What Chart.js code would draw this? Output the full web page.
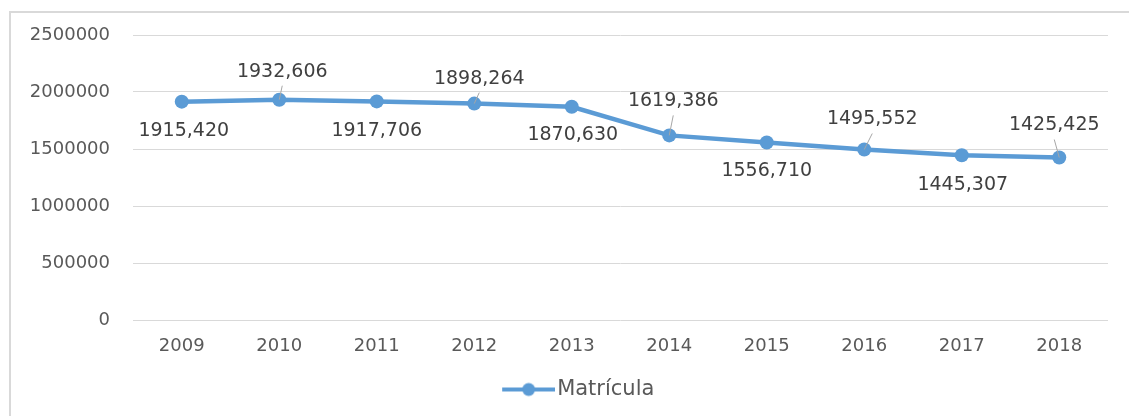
<!DOCTYPE html>
<html>
<head>
<meta charset="utf-8">
<script src="https://cdn.jsdelivr.net/npm/chart.js@4"></script>
<style>
    body { margin: 0; overflow: hidden; background: #fff; }
</style>
</head>
<body>
<canvas id="myChart" width="1129" height="416"></canvas>
<script>
// matrícula por año
const years = ['2009', '2010', '2011', '2012', '2013', '2014', '2015', '2016', '2017', '2018'];
const matricula = [1915420, 1932606, 1917706, 1898264, 1870630, 1619386, 1556710, 1495552, 1445307, 1425425];
const seriesName = 'Matrícula';

// desplazamiento de cada etiqueta respecto a su punto (px)
const labelOffsets = [[2, 29], [3, -28], [0, 30], [5, -25], [1, 28], [4, -34], [0, 29], [8, -30], [1, 30], [-5, -32]];

const blue = '#5B9BD5';
const font = 'DejaVu Sans';

// 1915420 -> "1915,420"
function formatValue(v) {
    const miles = Math.floor(v / 1000);
    const resto = String(v % 1000).padStart(3, '0');
    return miles + ',' + resto;
}

// icono de la leyenda: línea con círculo, pegado al texto
// (la mitad izquierda del lienzo queda vacía)
const legendIcon = document.createElement('canvas');
legendIcon.width = 110;
legendIcon.height = 16;
const lctx = legendIcon.getContext('2d');
lctx.strokeStyle = blue;
lctx.lineWidth = 4;
lctx.beginPath();
lctx.moveTo(57, 8);
lctx.lineTo(110, 8);
lctx.stroke();
lctx.fillStyle = blue;
lctx.beginPath();
lctx.arc(83.5, 8, 6.5, 0, Math.PI * 2);
lctx.fill();

// marco gris del gráfico
const frame = {
    id: 'frame',
    beforeDraw(chart) {
        const c = chart.ctx;
        c.save();
        c.strokeStyle = '#d9d9d9';
        c.lineWidth = 2;
        c.strokeRect(10, 12, chart.width + 40, chart.height + 40);
        c.restore();
    }
};

// etiquetas de valor con líneas guía
const valueLabels = {
    id: 'valueLabels',
    afterDatasetsDraw(chart) {
        const ctx = chart.ctx;
        const meta = chart.getDatasetMeta(0);
        ctx.save();
        ctx.font = '19px "' + font + '"';
        ctx.textAlign = 'center';
        ctx.textBaseline = 'middle';
        meta.data.forEach((pt, i) => {
            const [dx, dy] = labelOffsets[i];
            if (dy < 0) {
                ctx.strokeStyle = '#a6a6a6';
                ctx.lineWidth = 1;
                ctx.beginPath();
                ctx.moveTo(pt.x, pt.y);
                ctx.lineTo(pt.x + dx, pt.y + dy + 14);
                ctx.stroke();
            }
            ctx.fillStyle = '#404040';
            ctx.fillText(formatValue(matricula[i]), pt.x + dx, pt.y + dy);
        });
        ctx.restore();
    }
};

const ctx = document.getElementById('myChart').getContext('2d');

const myChart = new Chart(ctx, {
    type: 'line',
    data: {
        labels: years,
        datasets: [{
            label: seriesName,
            data: matricula,
            borderColor: blue,
            backgroundColor: blue,
            borderWidth: 4.5,
            pointRadius: 7,
            pointBackgroundColor: blue,
            pointBorderWidth: 0,
            tension: 0,
            fill: false
        }]
    },
    options: {
        responsive: false,
        animation: false,
        layout: {
            padding: { left: 0, right: 21, top: 35, bottom: 6 }
        },
        scales: {
            x: {
                offset: true,
                grid: { display: false },
                border: { display: false },
                ticks: {
                    color: '#595959',
                    padding: 8,
                    font: { size: 18, family: font }
                },
                afterFit(scale) { scale.height = 49; }
            },
            y: {
                min: 0,
                max: 2500000,
                ticks: {
                    stepSize: 500000,
                    color: '#595959',
                    padding: 23,
                    font: { size: 18, family: font },
                    callback: value => String(value)
                },
                grid: {
                    color: '#d9d9d9',
                    lineWidth: 1,
                    drawTicks: false
                },
                border: { display: false },
                afterFit(scale) { scale.width = 133; }
            }
        },
        plugins: {
            legend: {
                position: 'bottom',
                labels: {
                    usePointStyle: true,
                    pointStyle: legendIcon,
                    pointStyleWidth: 93,
                    padding: 10,
                    color: '#595959',
                    font: { size: 21, family: font }
                }
            },
            tooltip: { enabled: false }
        }
    },
    plugins: [frame, valueLabels]
});
</script>
</body>
</html>
